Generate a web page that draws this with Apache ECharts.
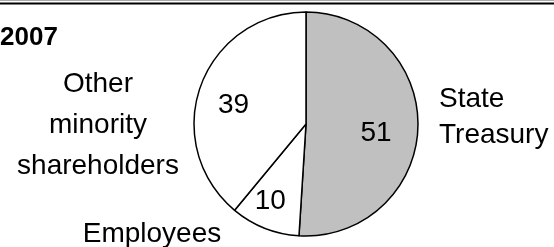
<!DOCTYPE html>
<html>
<head>
<meta charset="utf-8">
<script src="https://cdn.jsdelivr.net/npm/echarts@6/dist/echarts.min.js"></script>
<style>
html,body{margin:0;padding:0;background:#fff;}
#c{width:554px;height:247px;}
</style>
</head>
<body>
<div id="c"></div>
<script>
var year = '2007';
var categories = ['State Treasury', 'Employees', 'Other minority shareholders'];
var values = [51, 10, 39];
var sliceColors = ['#c0c0c0', '#ffffff', '#ffffff'];
var nameLabels = ['State\nTreasury', 'Employees', 'Other\nminority\nshareholders'];
var valueOffsets = [[11, 7], [-14, 22], [-17, 1]];

var FONT = 'Liberation Sans, Arial, sans-serif';
var chart = echarts.init(document.getElementById('c'), null, {renderer: 'canvas'});

var data = categories.map(function (c, i) {
  return {name: c, value: values[i], itemStyle: {color: sliceColors[i]}};
});

chart.setOption({
  animation: false,
  backgroundColor: '#fff',
  graphic: [
    {type: 'line', shape: {x1: 0, y1: 0.5, x2: 554, y2: 0.5}, style: {stroke: '#aaa', lineWidth: 1}},
    {type: 'line', shape: {x1: 0, y1: 3.5, x2: 554, y2: 3.5}, style: {stroke: '#000', lineWidth: 2}},
    {type: 'text', x: 0, y: 38, style: {text: year, font: 'bold 26px ' + FONT, fill: '#000', textAlign: 'left', textVerticalAlign: 'middle'}},
    {type: 'text', x: 439, y: 117, style: {text: nameLabels[0], font: '28px ' + FONT, fill: '#000', textAlign: 'left', textVerticalAlign: 'middle', lineHeight: 36}},
    {type: 'text', x: 152, y: 234, style: {text: nameLabels[1], font: '28px ' + FONT, fill: '#000', textAlign: 'center', textVerticalAlign: 'middle'}},
    {type: 'text', x: 98, y: 125, style: {text: nameLabels[2], font: '28px ' + FONT, fill: '#000', textAlign: 'center', textVerticalAlign: 'middle', lineHeight: 41}}
  ],
  series: [{
    type: 'pie',
    center: [306, 124],
    radius: 112,
    startAngle: 90,
    clockwise: true,
    silent: true,
    data: data,
    itemStyle: {borderColor: '#000', borderWidth: 1.5},
    label: {
      show: true,
      position: 'inside',
      formatter: '{c}',
      color: '#000',
      fontFamily: FONT,
      fontSize: 28
    },
    labelLine: {show: false},
    labelLayout: function (p) {
      var o = valueOffsets[p.dataIndex];
      return {dx: o[0], dy: o[1]};
    }
  }]
});
</script>
</body>
</html>
